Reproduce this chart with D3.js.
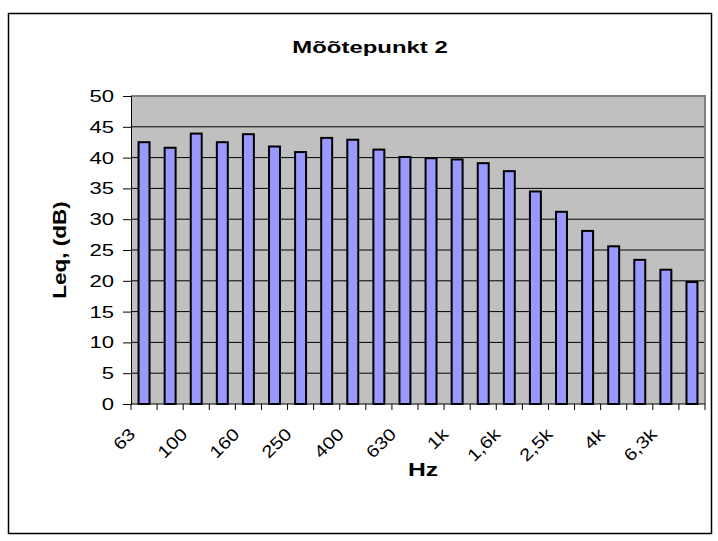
<!DOCTYPE html>
<html><head><meta charset="utf-8">
<script src="https://cdn.jsdelivr.net/npm/d3@7"></script>
<style>body{margin:0;background:#fff}svg{display:block}text{font-family:"Liberation Sans",Arial,sans-serif}</style>
</head><body>
<svg id="c" width="718" height="541"></svg>
<script>
const categories = ["63","80","100","125","160","200","250","315","400","500","630","800","1k","1,25k","1,6k","2k","2,5k","3,15k","4k","5k","6,3k","8k"];
const values = [42.5,41.6,43.9,42.5,43.8,41.8,40.9,43.2,42.9,41.3,40.1,39.9,39.7,39.1,37.8,34.5,31.2,28.1,25.6,23.4,21.8,19.8];
const shownLabels = ["63","100","160","250","400","630","1k","1,6k","2,5k","4k","6,3k"];
const yTicks = [0,5,10,15,20,25,30,35,40,45,50];
const title = "Mõõtepunkt 2";
const yTitle = "Leq, (dB)";
const xTitle = "Hz";

const svg = d3.select("#c");
const L = 131, R = 705, T = 96, B = 404;
svg.append("rect").attr("x",8.5).attr("y",13.5).attr("width",703).attr("height",520)
  .attr("fill","#fff").attr("stroke","#000").attr("stroke-width",1.5);

const x = d3.scaleBand().domain(categories).range([L,R]).paddingInner(0.58).paddingOuter(0.29);
const xb = d3.scaleBand().domain(categories).range([L,R]);
const y = d3.scaleLinear().domain([0,50]).range([B,T]);

svg.append("rect").attr("x",L).attr("y",T).attr("width",R-L).attr("height",B-T).attr("fill","#C0C0C0");
svg.append("g").selectAll("line").data(yTicks.filter(d=>d>0)).join("line")
  .attr("x1",L).attr("x2",R).attr("y1",d=>y(d)).attr("y2",d=>y(d)).attr("stroke","#000").attr("stroke-width",1);
svg.append("path").attr("d",`M${L},${T}H${R}V${B}`).attr("fill","none").attr("stroke","#808080").attr("stroke-width",2);

svg.append("g").selectAll("rect").data(values).join("rect")
  .attr("x",(d,i)=>x(categories[i])).attr("width",x.bandwidth())
  .attr("y",d=>y(d)).attr("height",d=>B-y(d))
  .attr("fill","#9999FF").attr("stroke","#000").attr("stroke-width",2);

// y axis
const yAxis = d3.axisLeft(y).tickValues(yTicks).tickSize(8).tickFormat("");
const gy = svg.append("g").attr("transform",`translate(${L},0)`).call(yAxis);
gy.select(".domain").attr("stroke","#000").attr("stroke-width",1);
svg.append("g").selectAll("text").data(yTicks).join("text")
  .attr("transform",d=>`translate(114,${y(d)}) scale(1.3,1)`)
  .attr("text-anchor","end").attr("dy","0.35em").attr("font-size",17).attr("fill","#000").text(d=>d);

// x axis
svg.append("line").attr("x1",L).attr("x2",R).attr("y1",B).attr("y2",B).attr("stroke","#000");
const bounds = categories.map(c=>xb(c)).concat([R]);
svg.append("g").selectAll("line").data(bounds).join("line")
  .attr("x1",d=>d).attr("x2",d=>d).attr("y1",B).attr("y2",B+6).attr("stroke","#000");
svg.append("g").selectAll("text").data(shownLabels).join("text")
  .attr("transform",d=>`translate(${xb(d)+xb.bandwidth()/2-12},${B+27}) rotate(-45) scale(1.2,1)`)
  .attr("text-anchor","end").attr("dy","0.35em").attr("font-size",17).attr("fill","#000").text(d=>d);

svg.append("text").attr("transform","translate(370,53) scale(1.45,1)").attr("text-anchor","middle")
  .attr("font-size",16.5).attr("font-weight","bold").text(title);
svg.append("text").attr("transform",`translate(66,250) rotate(-90) scale(1.25,1)`).attr("text-anchor","middle")
  .attr("font-size",18).attr("font-weight","bold").text(yTitle);
svg.append("text").attr("transform","translate(423,476) scale(1.3,1)").attr("text-anchor","middle")
  .attr("font-size",19).attr("font-weight","bold").text(xTitle);
</script>
</body></html>
